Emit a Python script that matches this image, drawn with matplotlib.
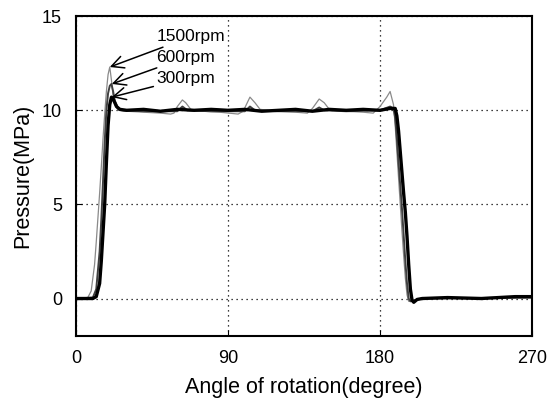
import numpy as np
import matplotlib
matplotlib.use("Agg")
import matplotlib.pyplot as plt

plt.rcParams['font.family'] = ['Liberation Sans', 'DejaVu Sans']

# 300rpm (thick black)
a300 = [0, 10, 12, 14, 15, 16, 17, 18, 19, 20, 21, 22, 23, 24, 26, 30, 40, 50, 60,
        70, 80, 90, 100, 110, 120, 130, 140, 150, 160, 170, 180, 186, 189, 190, 191,
        192, 193, 194, 195, 196, 197, 198, 199, 200, 202, 205, 220, 240, 260, 270]
p300 = [0.0, 0.0, 0.1, 0.8, 2.0, 3.5, 5.0, 7.2, 9.2, 10.3, 10.7, 10.6, 10.4, 10.2, 10.05,
        10.0, 10.05, 9.95, 10.05, 10.0, 10.05, 10.0, 10.05, 9.95, 10.0, 10.05, 9.95, 10.05,
        10.0, 10.05, 10.0, 10.1, 10.1, 9.7, 8.9, 7.8, 6.7, 5.6, 4.6, 3.3, 1.8, 0.5, -0.1,
        -0.2, -0.05, 0.0, 0.05, 0.0, 0.1, 0.1]

# 600rpm (dark grey)
a600 = [0, 10, 12, 14, 15, 16, 17, 18, 19, 20, 21, 22, 23, 25, 28, 40, 60, 63, 66, 80,
        100, 103, 106, 120, 140, 144, 147, 160, 180, 186, 188, 189, 190, 191, 192, 193,
        194, 195, 196, 197, 198, 200, 205, 270]
p600 = [0.0, 0.05, 0.5, 2.5, 4.2, 6.2, 8.3, 10.0, 10.9, 11.3, 11.4, 11.0, 10.5, 10.1,
        10.0, 9.95, 9.95, 10.2, 10.0, 9.95, 9.95, 10.2, 10.0, 9.95, 9.95, 10.15, 10.0,
        9.95, 10.0, 10.2, 10.1, 9.6, 8.5, 7.2, 6.0, 4.8, 3.4, 2.0, 0.8, 0.0, -0.15, -0.1,
        0.0, 0.05]

# 1500rpm (light grey)
a1500 = [0, 7, 9, 11, 12, 13, 14, 15, 16, 17, 18, 19, 20, 21, 22, 23, 25, 30, 40, 50,
         56, 58, 60, 63, 65, 68, 75, 85, 96, 99, 103, 106, 109, 120, 130, 137, 140, 144,
         147, 150, 160, 170, 176, 180, 184, 186, 188, 189, 190, 191, 192, 193, 194, 195,
         196, 197, 199, 205, 270]
p1500 = [0.0, 0.05, 0.4, 1.8, 3.0, 4.3, 5.6, 7.0, 8.5, 9.8, 11.0, 11.9, 12.3, 11.6, 10.8,
         10.3, 10.0, 9.95, 9.9, 9.85, 9.8, 9.85, 10.2, 10.55, 10.4, 10.05, 9.95, 9.9, 9.8,
         9.95, 10.7, 10.4, 10.05, 9.95, 9.9, 9.85, 10.1, 10.6, 10.4, 10.05, 9.95, 9.9,
         9.85, 10.2, 10.7, 11.0, 10.3, 9.2, 7.8, 6.4, 5.0, 3.6, 2.3, 1.1, 0.2, -0.15, -0.1,
         0.0, 0.05]

labels = ["1500rpm", "600rpm", "300rpm"]
peak_x = [20, 21.2, 21.2]
peak_y = [12.3, 11.4, 10.7]
text_x = [47.5, 47.5, 47.5]
text_y = [13.9, 12.8, 11.7]

fig = plt.figure(figsize=(5.53, 4.05), dpi=100)
ax = fig.add_axes([0.1374, 0.170, 0.8246, 0.790])

ax.plot(a1500, p1500, color="#8a8a8a", lw=0.9)
ax.plot(a600, p600, color="#404040", lw=1.4)
ax.plot(a300, p300, color="black", lw=2.4)

for lab, px, py, tx, ty in zip(labels, peak_x, peak_y, text_x, text_y):
    ax.annotate(lab, xy=(px, py), xytext=(tx, ty), fontsize=12.5, va="center", ha="left",
                arrowprops=dict(arrowstyle="->,head_length=0.7,head_width=0.35",
                                color="black", lw=1.1, shrinkA=0, shrinkB=0))

ax.set_xlim(0, 270)
ax.set_ylim(-2, 15)
ax.set_xticks([0, 90, 180, 270])
ax.set_yticks([0, 5, 10, 15])
ax.tick_params(direction="in", length=4, labelsize=13, pad=10)
ax.grid(True, linestyle=(0, (1, 3)), color="black", lw=0.9)
for s in ax.spines.values():
    s.set_linewidth(1.5)

ax.set_xlabel("Angle of rotation(degree)", fontsize=15.5, labelpad=7)
ax.set_ylabel("Pressure(MPa)", fontsize=15.5, labelpad=6)

fig.savefig("out.png", dpi=100)
